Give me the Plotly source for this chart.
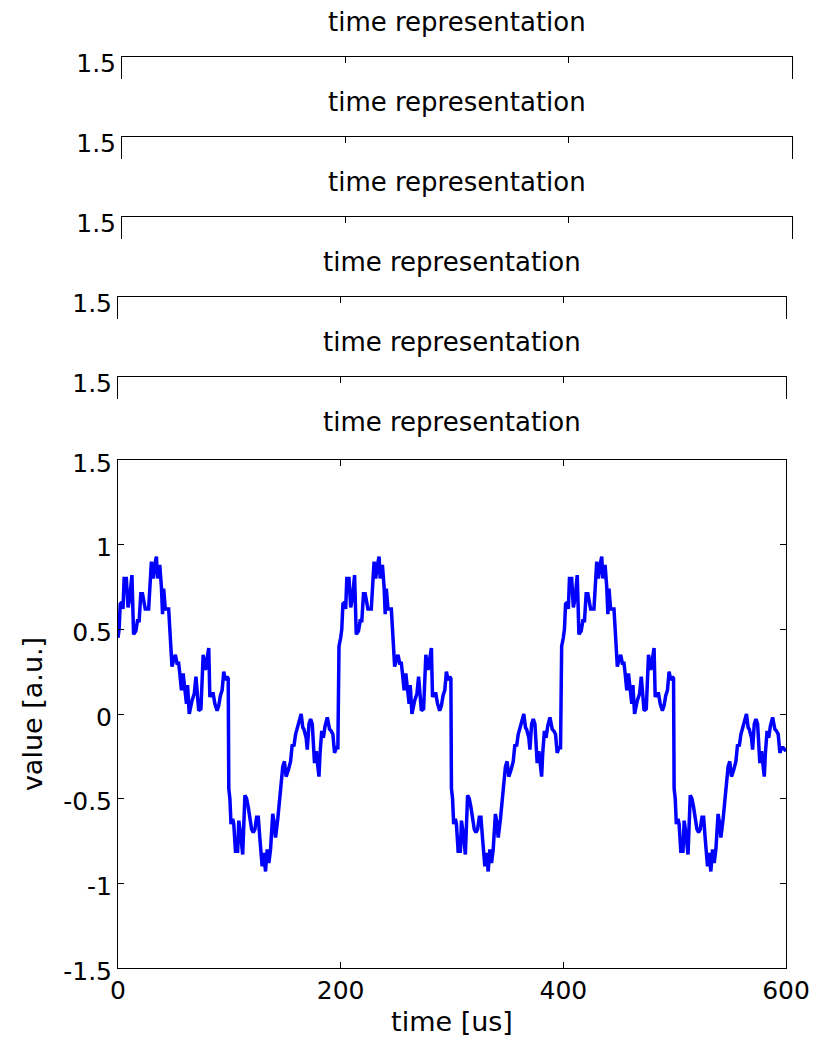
import plotly.graph_objects as go

# ---- data (three identical-looking periods) ----
time_p1 = [0, 1, 2, 3.5, 4.5, 5.5, 7.5, 9, 10.5, 12.5, 14, 16, 17.5, 19, 20.5, 22, 24.5, 27.5, 30, 31.5,
           33, 34.5, 35.5, 37.5, 39, 40, 41, 42.5, 45.5, 47, 48.5, 50, 51.5, 53, 54.5, 55.5, 57, 58.5, 60, 61.5,
           62.5, 64, 66.5, 68.5, 70, 72.5, 74.5, 76.5, 78.5, 79.5, 81.5, 82.5, 84, 85.5, 87, 89, 90.5, 92, 93.5, 95,
           96.5, 98, 99, 99.5, 100.5, 101.5, 103, 104, 105.5, 107.5, 108.5, 110, 112, 114, 115.5, 117, 118.5, 120, 121.5, 123,
           124.5, 126, 127.5, 129.5, 131, 132.5, 134, 135.5, 137, 139, 140, 141.5, 143.5, 145.5, 148, 149.5, 151, 153, 155, 156.5,
           158, 159.5, 161, 162.5, 164.5, 166, 167, 169, 170, 171.5, 173, 174.5, 176.5, 178, 179, 180.5, 181.5, 183, 184.5, 186,
           188, 190, 191.5, 193, 194.5, 196, 197.5, 198.5]
value_p1 = [0.45, 0.50, 0.65, 0.66, 0.62, 0.80, 0.80, 0.63, 0.68, 0.82, 0.47, 0.49, 0.55, 0.55, 0.71, 0.71, 0.62, 0.62, 0.90, 0.80,
            0.88, 0.93, 0.80, 0.88, 0.75, 0.59, 0.74, 0.62, 0.62, 0.43, 0.28, 0.32, 0.35, 0.30, 0.30, 0.24, 0.14, 0.24, 0.16, 0.06,
            0.17, 0.00, 0.08, 0.12, 0.22, 0.02, 0.03, 0.35, 0.26, 0.30, 0.39, 0.10, 0.12, 0.12, 0.06, 0.02, 0.05, 0.11, 0.14, 0.25,
            0.20, 0.22, 0.21, -0.44, -0.50, -0.65, -0.62, -0.65, -0.81, -0.81, -0.63, -0.70, -0.83, -0.48, -0.50, -0.55, -0.62, -0.68, -0.70, -0.68,
            -0.61, -0.61, -0.74, -0.90, -0.82, -0.93, -0.80, -0.88, -0.80, -0.59, -0.63, -0.73, -0.62, -0.49, -0.31, -0.28, -0.37, -0.33, -0.28, -0.18,
            -0.19, -0.12, -0.08, -0.05, 0.00, -0.08, -0.09, -0.14, -0.21, -0.06, -0.03, -0.06, -0.29, -0.22, -0.29, -0.37, -0.23, -0.10, -0.14, -0.07,
            -0.02, -0.09, -0.10, -0.12, -0.23, -0.20, -0.20, 0.40]

time_p2 = [200, 201, 202, 203.5, 204.5, 205.5, 207.5, 209, 210.5, 212.5, 214, 216, 217.5, 219, 220.5, 222, 224.5, 227.5, 230, 231.5,
           233, 234.5, 235.5, 237.5, 239, 240, 241, 242.5, 245.5, 247, 248.5, 250, 251.5, 253, 254.5, 255.5, 257, 258.5, 260, 261.5,
           262.5, 264, 266.5, 268.5, 270, 272.5, 274.5, 276.5, 278.5, 279.5, 281.5, 282.5, 284, 285.5, 287, 289, 290.5, 292, 293.5, 295,
           296.5, 298, 299, 299.5, 300.5, 301.5, 303, 304, 305.5, 307.5, 308.5, 310, 312, 314, 315.5, 317, 318.5, 320, 321.5, 323,
           324.5, 326, 327.5, 329.5, 331, 332.5, 334, 335.5, 337, 339, 340, 341.5, 343.5, 345.5, 348, 349.5, 351, 353, 355, 356.5,
           358, 359.5, 361, 362.5, 364.5, 366, 367, 369, 370, 371.5, 373, 374.5, 376.5, 378, 379, 380.5, 381.5, 383, 384.5, 386,
           388, 390, 391.5, 393, 394.5, 396, 397.5, 398.5]
value_p2 = [0.45, 0.50, 0.65, 0.66, 0.62, 0.80, 0.80, 0.63, 0.68, 0.82, 0.47, 0.49, 0.55, 0.55, 0.71, 0.71, 0.62, 0.62, 0.90, 0.80,
            0.88, 0.93, 0.80, 0.88, 0.75, 0.59, 0.74, 0.62, 0.62, 0.43, 0.28, 0.32, 0.35, 0.30, 0.30, 0.24, 0.14, 0.24, 0.16, 0.06,
            0.17, 0.00, 0.08, 0.12, 0.22, 0.02, 0.03, 0.35, 0.26, 0.30, 0.39, 0.10, 0.12, 0.12, 0.06, 0.02, 0.05, 0.11, 0.14, 0.25,
            0.20, 0.22, 0.21, -0.44, -0.50, -0.65, -0.62, -0.65, -0.81, -0.81, -0.63, -0.70, -0.83, -0.48, -0.50, -0.55, -0.62, -0.68, -0.70, -0.68,
            -0.61, -0.61, -0.74, -0.90, -0.82, -0.93, -0.80, -0.88, -0.80, -0.59, -0.63, -0.73, -0.62, -0.49, -0.31, -0.28, -0.37, -0.33, -0.28, -0.18,
            -0.19, -0.12, -0.08, -0.05, 0.00, -0.08, -0.09, -0.14, -0.21, -0.06, -0.03, -0.06, -0.29, -0.22, -0.29, -0.37, -0.23, -0.10, -0.14, -0.07,
            -0.02, -0.09, -0.10, -0.12, -0.23, -0.20, -0.20, 0.40]

time_p3 = [400, 401, 402, 403.5, 404.5, 405.5, 407.5, 409, 410.5, 412.5, 414, 416, 417.5, 419, 420.5, 422, 424.5, 427.5, 430, 431.5,
           433, 434.5, 435.5, 437.5, 439, 440, 441, 442.5, 445.5, 447, 448.5, 450, 451.5, 453, 454.5, 455.5, 457, 458.5, 460, 461.5,
           462.5, 464, 466.5, 468.5, 470, 472.5, 474.5, 476.5, 478.5, 479.5, 481.5, 482.5, 484, 485.5, 487, 489, 490.5, 492, 493.5, 495,
           496.5, 498, 499, 499.5, 500.5, 501.5, 503, 504, 505.5, 507.5, 508.5, 510, 512, 514, 515.5, 517, 518.5, 520, 521.5, 523,
           524.5, 526, 527.5, 529.5, 531, 532.5, 534, 535.5, 537, 539, 540, 541.5, 543.5, 545.5, 548, 549.5, 551, 553, 555, 556.5,
           558, 559.5, 561, 562.5, 564.5, 566, 567, 569, 570, 571.5, 573, 574.5, 576.5, 578, 579, 580.5, 581.5, 583, 584.5, 586,
           588, 590, 591.5, 593, 594.5, 596, 597.5, 600]
value_p3 = [0.45, 0.50, 0.65, 0.66, 0.62, 0.80, 0.80, 0.63, 0.68, 0.82, 0.47, 0.49, 0.55, 0.55, 0.71, 0.71, 0.62, 0.62, 0.90, 0.80,
            0.88, 0.93, 0.80, 0.88, 0.75, 0.59, 0.74, 0.62, 0.62, 0.43, 0.28, 0.32, 0.35, 0.30, 0.30, 0.24, 0.14, 0.24, 0.16, 0.06,
            0.17, 0.00, 0.08, 0.12, 0.22, 0.02, 0.03, 0.35, 0.26, 0.30, 0.39, 0.10, 0.12, 0.12, 0.06, 0.02, 0.05, 0.11, 0.14, 0.25,
            0.20, 0.22, 0.21, -0.44, -0.50, -0.65, -0.62, -0.65, -0.81, -0.81, -0.63, -0.70, -0.83, -0.48, -0.50, -0.55, -0.62, -0.68, -0.70, -0.68,
            -0.61, -0.61, -0.74, -0.90, -0.82, -0.93, -0.80, -0.88, -0.80, -0.59, -0.63, -0.73, -0.62, -0.49, -0.31, -0.28, -0.37, -0.33, -0.28, -0.18,
            -0.19, -0.12, -0.08, -0.05, 0.00, -0.08, -0.09, -0.14, -0.21, -0.06, -0.03, -0.06, -0.29, -0.22, -0.29, -0.37, -0.23, -0.10, -0.14, -0.07,
            -0.02, -0.09, -0.10, -0.12, -0.23, -0.20, -0.20, -0.22]

time_us = time_p1 + time_p2 + time_p3
value_au = value_p1 + value_p2 + value_p3

x_ticks = [0, 200, 400, 600]
x_tick_labels = ["0", "200", "400", "600"]
y_ticks = [-1.5, -1, -0.5, 0, 0.5, 1, 1.5]
y_tick_labels = ["-1.5", "-1", "-0.5", "0", "0.5", "1", "1.5"]
title_text = "time representation"
x_label = "time [us]"
y_label = "value [a.u.]"

# ---- layout geometry (pixels) ----
W, H = 816, 1048
FONT = "Comic Sans MS, DejaVu Sans, sans-serif"
TICK_FS = 25
TITLE_FS = 26
LABEL_FS = 27

def fx(p):
    return p / W

def fy(p):
    return 1 - p / H

# ghost (overlapped) axes: (left, right, top) in px
ghosts = [(122, 792, 57), (122, 792, 137), (122, 792, 217), (118, 786, 297), (118, 786, 377)]
GHOST_H = 22
main_box = (118, 786, 460, 968)

fig = go.Figure()

layout = dict(
    width=W, height=H, autosize=False,
    margin=dict(l=0, r=0, t=0, b=0, pad=0, autoexpand=False),
    paper_bgcolor="white", plot_bgcolor="white",
    font=dict(family=FONT, size=TICK_FS, color="black"),
    showlegend=False,
    annotations=[],
)

for i, (l, r, top) in enumerate(ghosts):
    n = i + 2
    fig.add_trace(go.Scatter(x=[], y=[], mode="lines", xaxis=f"x{n}", yaxis=f"y{n}",
                             showlegend=False, hoverinfo="skip"))
    layout[f"xaxis{n}"] = dict(
        domain=[fx(l), fx(r)], range=[0, 600], anchor=f"y{n}", side="top",
        showline=True, linecolor="black", linewidth=1, mirror=False,
        tickvals=[200, 400], ticks="inside", ticklen=6, tickcolor="black",
        showticklabels=False, showgrid=False, zeroline=False, fixedrange=True,
        automargin=False,
    )
    layout[f"yaxis{n}"] = dict(
        domain=[fy(top + GHOST_H), fy(top)], range=[1.0, 1.5], anchor=f"x{n}",
        showline=True, linecolor="black", linewidth=1, mirror=True,
        tickvals=[1.5], ticktext=["1.5"], ticks="", ticklabelshift=6,
        showgrid=False, zeroline=False, fixedrange=True, automargin=False,
        tickfont=dict(family=FONT, size=TICK_FS, color="black"),
    )
    layout["annotations"].append(dict(
        text=title_text, xref=f"x{n} domain", yref=f"y{n} domain", x=0.5, y=1,
        yshift=35, xanchor="center", yanchor="middle", showarrow=False,
        font=dict(family=FONT, size=TITLE_FS, color="black"),
    ))

fig.add_trace(go.Scatter(x=time_us, y=value_au, mode="lines",
                         line=dict(color="#0000ff", width=3.5),
                         xaxis="x", yaxis="y", showlegend=False))

l, r, top, bot = main_box
layout["xaxis"] = dict(
    domain=[fx(l), fx(r)], range=[0, 600], anchor="y",
    showline=True, linecolor="black", linewidth=1, mirror="ticks",
    tickvals=x_ticks, ticktext=x_tick_labels, ticks="inside", ticklen=6, tickcolor="black",
    showgrid=False, zeroline=False, automargin=False,
    tickfont=dict(family=FONT, size=TICK_FS, color="black"),
    title=dict(text=x_label, standoff=8, font=dict(family=FONT, size=LABEL_FS, color="black")),
)
layout["yaxis"] = dict(
    domain=[fy(bot), fy(top)], range=[-1.5, 1.5], anchor="x",
    showline=True, linecolor="black", linewidth=1, mirror="ticks",
    tickvals=y_ticks, ticktext=y_tick_labels, ticks="inside", ticklen=6, tickcolor="black",
    showgrid=False, zeroline=False, ticklabelshift=3, automargin=False,
    tickfont=dict(family=FONT, size=TICK_FS, color="black"),
    title=dict(text=y_label, standoff=12, font=dict(family=FONT, size=LABEL_FS, color="black")),
)
layout["annotations"].append(dict(
    text=title_text, xref="x domain", yref="y domain", x=0.5, y=1,
    yshift=38, xanchor="center", yanchor="middle", showarrow=False,
    font=dict(family=FONT, size=TITLE_FS, color="black"),
))

fig.update_layout(**layout)
fig.write_html("out.html")
